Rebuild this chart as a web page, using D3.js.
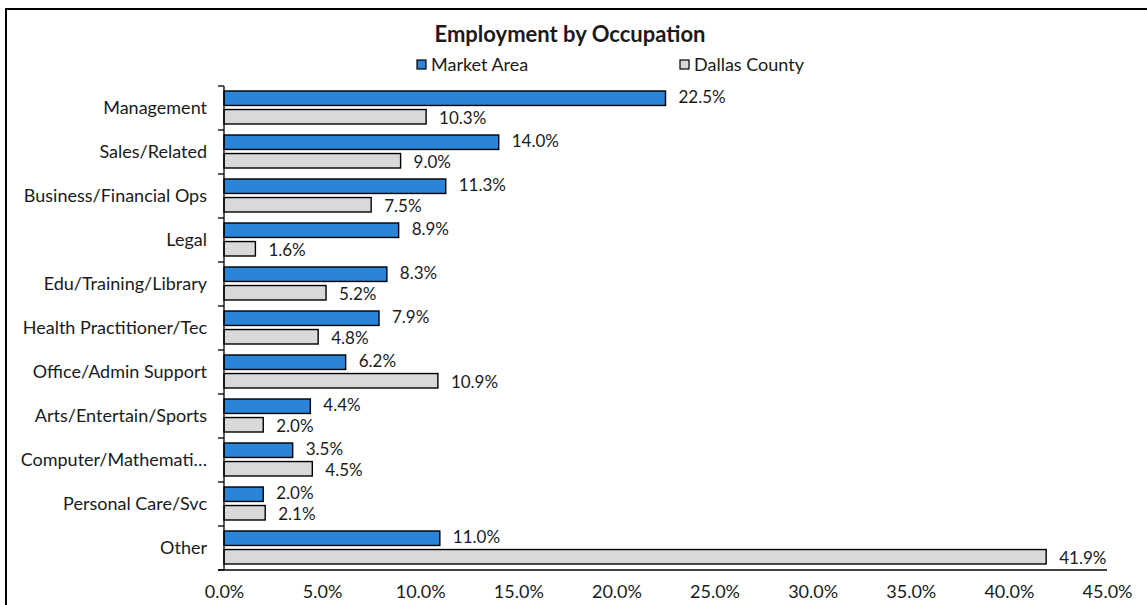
<!DOCTYPE html>
<html>
<head>
<meta charset="utf-8">
<script src="https://cdn.jsdelivr.net/npm/d3@7"></script>
<style>
  body { margin: 0; background: #fff; }
  text { font-family: Lato, 'Open Sans', sans-serif; fill: #1a1a1a; }
</style>
</head>
<body>
<svg id="chart" width="1147" height="605"></svg>
<script>
const categories = ['Management', 'Sales/Related', 'Business/Financial Ops', 'Legal', 'Edu/Training/Library',
  'Health Practitioner/Tec', 'Office/Admin Support', 'Arts/Entertain/Sports', 'Computer/Mathemati…',
  'Personal Care/Svc', 'Other']
const marketArea = [22.5, 14.0, 11.3, 8.9, 8.3, 7.9, 6.2, 4.4, 3.5, 2.0, 11.0]
const dallasCounty = [10.3, 9.0, 7.5, 1.6, 5.2, 4.8, 10.9, 2.0, 4.5, 2.1, 41.9]
const seriesNames = ['Market Area', 'Dallas County']
const xTicks = [0, 5, 10, 15, 20, 25, 30, 35, 40, 45]

const colors = ['#2a84d8', '#d9d9d9']
const width = 1147
const height = 605
const margin = { top: 86, left: 224, right: 40, bottom: 35 }
const fontSize = '18px'

const svg = d3.select('#chart')

// outer frame
svg.append('rect')
  .attr('x', 6).attr('y', 9)
  .attr('width', width + 10).attr('height', height + 10)
  .attr('fill', 'none').attr('stroke', '#000').attr('stroke-width', 2)

const x = d3.scaleLinear().domain([0, 45]).range([margin.left, 1107])
const y = d3.scaleBand().domain(categories).range([margin.top, 570]).paddingInner(0).paddingOuter(0)
const inner = d3.scaleBand().domain(seriesNames).range([5, y.bandwidth() - 6]).paddingInner(0.22)

const rows = categories.map((c, i) => ({ cat: c, values: [marketArea[i], dallasCounty[i]] }))

const groups = svg.append('g').selectAll('g')
  .data(rows)
  .join('g')
  .attr('transform', (d) => `translate(0,${y(d.cat)})`)

groups.selectAll('rect')
  .data((d) => d.values.map((v, j) => ({ v, s: seriesNames[j], j })))
  .join('rect')
  .attr('x', x(0))
  .attr('y', (d) => inner(d.s))
  .attr('width', (d) => x(d.v) - x(0))
  .attr('height', inner.bandwidth())
  .attr('fill', (d) => colors[d.j])
  .attr('stroke', '#000')
  .attr('stroke-width', 1.4)

// labels sit at the bar end; nudge the pair apart a little so they don't touch
groups.selectAll('text.val')
  .data((d) => d.values.map((v, j) => ({ v, s: seriesNames[j], j })))
  .join('text')
  .attr('class', 'val')
  .attr('x', (d) => x(d.v) + 13)
  .attr('y', (d) => inner(d.s) + inner.bandwidth() / 2 + (d.j === 0 ? -1.5 : 1.5))
  .attr('dy', '0.36em')
  .style('font-size', '17px')
  .text((d) => d.v.toFixed(1) + '%')

// y axis
const yAxis = svg.append('g')
  .attr('transform', `translate(${margin.left},0)`)
yAxis.append('line')
  .attr('x1', 0).attr('x2', 0).attr('y1', margin.top).attr('y2', 570)
  .attr('stroke', '#000').attr('stroke-width', 1.3)
yAxis.selectAll('line.tick')
  .data(categories.concat(['__end']))
  .join('line')
  .attr('class', 'tick')
  .attr('x1', -6).attr('x2', 0)
  .attr('y1', (d) => d === '__end' ? 570 : y(d))
  .attr('y2', (d) => d === '__end' ? 570 : y(d))
  .attr('stroke', '#000').attr('stroke-width', 1.3)
yAxis.selectAll('text')
  .data(categories)
  .join('text')
  .attr('x', -17)
  .attr('y', (d) => y(d) + y.bandwidth() / 2)
  .attr('dy', '0.36em')
  .attr('text-anchor', 'end')
  .style('font-size', fontSize)
  .text((d) => d)

// x axis
const xAxis = svg.append('g').attr('transform', 'translate(0,570)')
  .call(d3.axisBottom(x).tickValues(xTicks).tickSize(0).tickFormat((d) => d.toFixed(1) + '%'))
xAxis.select('.domain').attr('stroke', '#000').attr('stroke-width', 1.3)
  .attr('d', `M${margin.left - 6},0H${x(45)}`)
xAxis.selectAll('text').style('font-size', fontSize).style('font-family', 'Lato, sans-serif')
  .attr('fill', '#1a1a1a').attr('dy', '0').attr('y', 28)

// title
svg.append('text')
  .attr('x', 570).attr('y', 42)
  .attr('text-anchor', 'middle')
  .style('font-size', '22px').style('font-weight', 'bold')
  .text('Employment by Occupation')

// legend
const legendX = [417, 680]
const legend = svg.append('g').selectAll('g')
  .data(seriesNames)
  .join('g')
  .attr('transform', (d, i) => `translate(${legendX[i]},60)`)
legend.append('rect')
  .attr('width', 9).attr('height', 9)
  .attr('fill', (d, i) => colors[i])
  .attr('stroke', '#000').attr('stroke-width', 1.2)
legend.append('text')
  .attr('x', 14).attr('y', 4.5).attr('dy', '0.36em')
  .style('font-size', fontSize)
  .text((d) => d)
</script>
</body>
</html>
